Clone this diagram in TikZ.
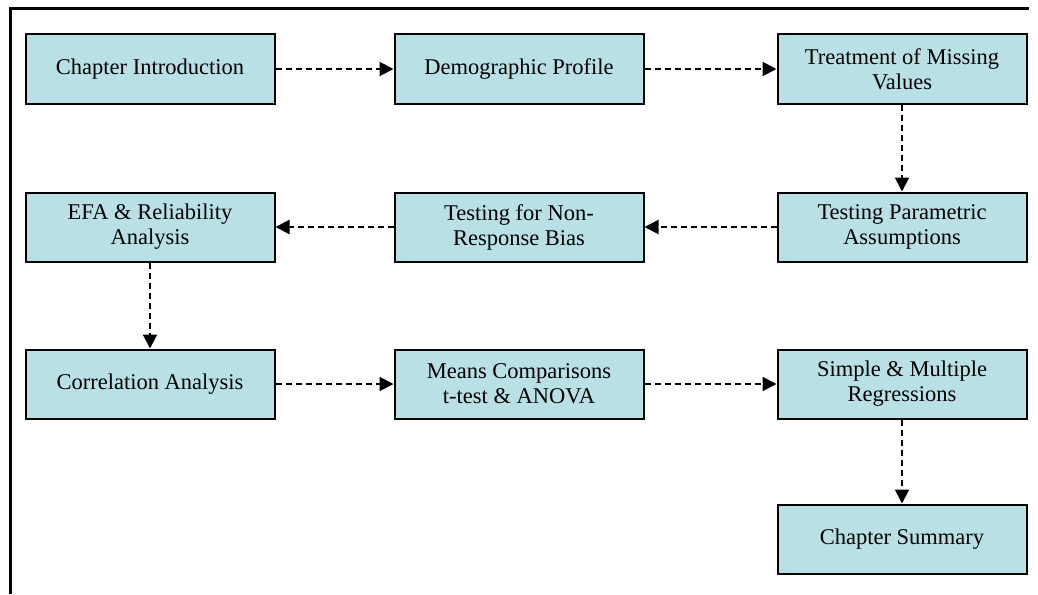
\documentclass[tikz,border=0pt]{standalone}
\usepackage{fontspec}
\setmainfont{Liberation Serif}
\usetikzlibrary{arrows.meta}
\definecolor{boxfill}{RGB}{185,224,228}
\begin{document}
\begin{tikzpicture}[x=1pt,y=-1pt,
  stagebox/.style={draw=black,line width=2pt,fill=boxfill,
    minimum width=249pt,minimum height=69pt,inner sep=2pt,
    align=center,font=\fontsize{22.5}{25}\selectfont},
  flow/.style={line width=2pt,dash pattern=on 6pt off 4pt,
    -{Triangle[length=14pt,width=14pt]}}]
\useasboundingbox (0,0) rectangle (1038,594);
% frame
\draw[line width=3pt] (10,594) -- (10,9) -- (1029,9);
% stages
\node[stagebox] (intro) at (150,69) {Chapter Introduction};
\node[stagebox] (demo) at (519,69) {Demographic Profile};
\node[stagebox] (miss) at (902,69) {Treatment of Missing\\Values};
\node[stagebox] (param) at (902,227) {Testing Parametric\\Assumptions};
\node[stagebox] (bias) at (519,227) {Testing for Non-\\Response Bias};
\node[stagebox] (efa) at (150,227) {EFA \& Reliability\\Analysis};
\node[stagebox] (corr) at (150,384) {Correlation Analysis};
\node[stagebox] (means) at (519,384) {Means Comparisons\\t-test \& ANOVA};
\node[stagebox] (reg) at (902,384) {Simple \& Multiple\\Regressions};
\node[stagebox] (summ) at (902,539) {Chapter Summary};
% connectors
\draw[flow] (intro) -- (demo);
\draw[flow] (demo) -- (miss);
\draw[flow] (miss) -- (param);
\draw[flow] (param) -- (bias);
\draw[flow] (bias) -- (efa);
\draw[flow] (efa) -- (corr);
\draw[flow] (corr) -- (means);
\draw[flow] (means) -- (reg);
\draw[flow] (reg) -- (summ);
\end{tikzpicture}
\end{document}
